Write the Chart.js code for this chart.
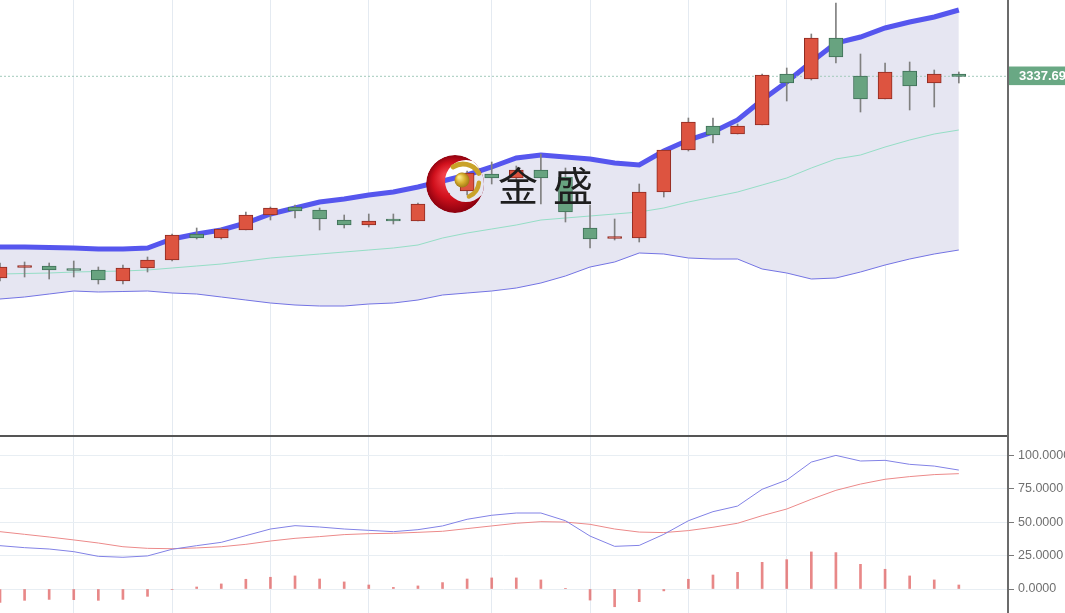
<!doctype html>
<html lang="zh">
  <head>
    <meta charset="UTF-8" />
    <title>金盛 K线</title>
    <script src="https://cdn.jsdelivr.net/npm/chart.js"></script>
    <style>
      html, body { margin: 0; padding: 0; background: #fff; }
      #wrap { width: 1065px; height: 613px; overflow: hidden; }
      canvas { display: block; }
    </style>
  </head>
  <body>
    <div id="wrap">
      <canvas id="price" width="1065" height="437"></canvas>
      <canvas id="osc" width="1065" height="176"></canvas>
    </div>
    <script>
      // candles (red = up, green = down)
      const opens = [3136, 3146.5, 3148, 3144.5, 3144, 3133, 3146, 3154, 3180, 3176, 3184, 3199, 3207, 3204, 3194, 3189, 3193.5, 3193, 3209, 3223, 3240, 3236, 3244, 3237, 3186, 3175.5, 3176, 3222, 3264, 3288, 3280, 3289, 3340, 3335, 3376, 3338, 3315, 3343, 3331, 3340];
      const closes = [3147, 3147.5, 3144, 3143.5, 3134, 3146, 3154, 3179, 3176, 3185, 3199, 3206, 3203, 3195, 3189, 3193, 3193, 3210, 3221, 3241, 3236, 3244, 3236, 3202, 3175, 3176.5, 3222, 3264, 3292, 3279, 3288, 3339, 3331, 3376, 3357, 3315, 3342, 3328, 3340, 3337.69];
      const highs = [3151, 3152, 3151, 3153, 3147, 3149, 3157, 3180, 3186, 3186, 3202, 3207, 3209, 3206, 3199, 3200, 3200, 3211, 3224, 3243, 3252, 3248, 3260, 3246, 3209, 3195, 3230, 3264, 3296, 3296, 3290, 3340, 3346, 3380, 3411, 3360, 3351, 3352, 3344, 3342];
      const lows = [3133, 3137, 3135, 3137, 3130, 3130, 3142, 3153, 3175, 3175, 3184, 3194, 3196, 3184, 3186, 3187, 3190, 3193, 3206, 3219, 3230, 3232, 3210, 3192, 3166, 3174, 3172, 3217, 3263, 3271, 3280, 3289, 3313, 3334, 3351, 3302, 3315, 3304, 3307, 3331];

      // bollinger bands
      const upperBand = [3167, 3167, 3166.5, 3166, 3165, 3165, 3166, 3175, 3180, 3184, 3191, 3200, 3206, 3212, 3215, 3219, 3222, 3227, 3233, 3239, 3247, 3256, 3259, 3257, 3255, 3251, 3249, 3263, 3274, 3282, 3294, 3314, 3332, 3352, 3371, 3377, 3386, 3392, 3397, 3404];
      const midBand = [3140, 3140.5, 3141, 3142, 3142.5, 3143, 3144, 3146, 3148, 3150, 3153, 3156, 3158, 3160, 3162, 3164, 3166, 3169, 3176, 3181, 3185, 3189, 3194, 3196, 3198, 3200, 3202, 3206, 3212, 3217, 3222, 3229, 3236, 3246, 3255, 3259, 3267, 3274, 3280, 3284];
      const lowerBand = [3115, 3117, 3120, 3123, 3122, 3122.5, 3123, 3121, 3120, 3117, 3114, 3111, 3109, 3108, 3108, 3110, 3111, 3114, 3119, 3121, 3123, 3126, 3131, 3138, 3147, 3152, 3161, 3160, 3156, 3155, 3155, 3145, 3141, 3135, 3136, 3142, 3149, 3155, 3160, 3164];

      // oscillator panel
      const fastLine = [32.5, 31, 30, 28, 24.5, 23.8, 24.8, 29.8, 32.5, 35, 40, 45, 47.5, 46.5, 45, 44, 43, 44.5, 47.3, 52.3, 55.3, 57, 57, 51.2, 39.7, 32, 32.7, 41, 51.2, 58, 62.2, 74.8, 81.7, 95.2, 100.2, 96, 96.5, 93.5, 92.2, 89.2];
      const slowLine = [43, 41, 39, 36.8, 34.5, 31.7, 30.5, 30.2, 30.8, 31.7, 33.5, 36, 38, 39.3, 40.8, 41.5, 41.8, 42.5, 43.3, 45.3, 47.3, 49.3, 50.5, 50.2, 48.5, 45, 42.7, 42.3, 43.8, 46.3, 49.3, 55, 60, 67.3, 74, 78.7, 82.3, 84.3, 85.8, 86.5];
      const histogram = [-10, -8.5, -7.8, -8, -8.5, -7.8, -5.5, -0.4, 1.5, 3.8, 7.3, 8.8, 9.8, 7.5, 5.3, 3, 1.2, 2.3, 4.8, 7.5, 8.3, 8.3, 6.8, 0.5, -8.3, -13.3, -9.5, -1.4, 7.3, 10.5, 12.5, 20, 22, 27.8, 27.3, 18.5, 14.8, 9.8, 6.8, 3];

      const weekStarts = [3, 7, 11, 15, 20, 24, 28, 32, 36];
      const oscTicks = [0, 25, 50, 75, 100];
      const xMax = 41;

      const lastClose = closes[closes.length - 1];
      const pts = (arr) => arr.map((v, i) => ({ x: i, y: v }));
      const isUp = (i) => closes[i] >= opens[i];

      Chart.defaults.font.family = '"Liberation Sans", Arial, sans-serif';

      // right axis: fixed width, no extra padding for the labels
      const fitRight = (s) => {
        s.width = 57;
        s.paddingTop = 0;
        s.paddingBottom = 0;
      };

      const xAxis = {
        type: "linear",
        min: 0,
        max: xMax,
        offset: false,
        afterBuildTicks: (s) => {
          s.ticks = weekStarts.map((v) => ({ value: v }));
        },
        ticks: { display: false },
        grid: { color: "#e4eaf1", drawTicks: false, offset: false },
        border: { display: false },
      };

      // 金盛 watermark
      const watermark = {
        id: "watermark",
        afterDatasetsDraw(chart) {
          const ctx = chart.ctx;
          ctx.save();
          ctx.beginPath();
          ctx.arc(455, 184, 29, 0, Math.PI * 2);
          ctx.clip();
          const g = ctx.createRadialGradient(446, 176, 3, 455, 184, 30);
          g.addColorStop(0, "#f2404a");
          g.addColorStop(0.55, "#d0101c");
          g.addColorStop(1, "#86000e");
          ctx.beginPath();
          ctx.arc(455, 184, 29, 0, Math.PI * 2);
          ctx.moveTo(487, 181);
          ctx.arc(466, 181, 21, 0, Math.PI * 2, true);
          ctx.fillStyle = g;
          ctx.fill("evenodd");
          ctx.restore();

          ctx.save();
          ctx.strokeStyle = "#c9a22a";
          ctx.lineCap = "round";
          ctx.lineWidth = 5;
          ctx.beginPath();
          ctx.arc(463, 182, 18, -2.15, -0.5);
          ctx.stroke();
          ctx.lineWidth = 4.5;
          ctx.beginPath();
          ctx.arc(462, 181, 17, 0.1, 1.15);
          ctx.stroke();
          const b = ctx.createRadialGradient(459, 177, 1, 462, 180, 8);
          b.addColorStop(0, "#f8e98a");
          b.addColorStop(0.5, "#d9b030");
          b.addColorStop(1, "#9c7412");
          ctx.beginPath();
          ctx.arc(462, 180, 7.5, 0, Math.PI * 2);
          ctx.fillStyle = b;
          ctx.fill();

          ctx.fillStyle = "#1e1e1e";
          ctx.font = '40px "Noto Sans CJK SC"';
          ctx.textAlign = "center";
          ctx.textBaseline = "middle";
          ctx.fillText("金", 518, 186);
          ctx.fillText("盛", 573, 186);
          ctx.restore();
        },
      };

      new Chart(document.getElementById("price"), {
        type: "bar",
        data: {
          datasets: [
            {
              type: "line",
              data: pts(upperBand),
              borderColor: "#5656ee",
              borderWidth: 5,
              pointRadius: 0,
              fill: "+2",
              backgroundColor: "#e6e6f2",
              order: 6,
            },
            {
              type: "line",
              data: pts(midBand),
              borderColor: "#95dec6",
              borderWidth: 1,
              pointRadius: 0,
              fill: false,
              order: 5,
            },
            {
              type: "line",
              data: pts(lowerBand),
              borderColor: "#7373e3",
              borderWidth: 1,
              pointRadius: 0,
              fill: false,
              order: 5,
            },
            {
              type: "line",
              data: [
                { x: 0, y: lastClose },
                { x: xMax, y: lastClose },
              ],
              borderColor: "#a3cbbc",
              borderWidth: 1,
              borderDash: [2, 2],
              pointRadius: 0,
              fill: false,
              order: 4,
            },
            {
              data: highs.map((h, i) => ({ x: i, y: [lows[i], h] })),
              backgroundColor: "#808080",
              barThickness: 1,
              grouped: false,
              order: 3,
            },
            {
              data: opens.map((o, i) => ({ x: i, y: [o, closes[i]] })),
              backgroundColor: opens.map((o, i) => (isUp(i) ? "#dd5440" : "#68a380")),
              borderColor: opens.map((o, i) => (isUp(i) ? "#8e2b22" : "#3e6f57")),
              borderWidth: 1,
              borderSkipped: false,
              barThickness: 14,
              minBarLength: 2,
              grouped: false,
              order: 1,
            },
          ],
        },
        options: {
          responsive: false,
          animation: false,
          layout: { padding: { bottom: 1 } },
          plugins: { legend: { display: false }, tooltip: { enabled: false } },
          scales: {
            x: { ...xAxis, border: { display: true, color: "#555", width: 2 } },
            y: {
              position: "right",
              min: 2978,
              max: 3414,
              afterFit: fitRight,
              afterBuildTicks: (s) => {
                s.ticks = [{ value: lastClose }];
              },
              grid: { display: false, drawTicks: false },
              border: { color: "#6b6b6b", width: 2 },
              ticks: {
                padding: 11,
                color: "#fff",
                font: { size: 13, weight: "bold" },
                callback: (v) => v.toFixed(2),
                showLabelBackdrop: true,
                backdropColor: "#69a884",
                backdropPadding: { top: 2, bottom: 1, left: 10, right: 20 },
              },
            },
          },
        },
        plugins: [watermark],
      });

      new Chart(document.getElementById("osc"), {
        type: "bar",
        data: {
          datasets: [
            {
              type: "line",
              data: pts(fastLine),
              borderColor: "#8282e6",
              borderWidth: 1,
              pointRadius: 0,
              order: 2,
            },
            {
              type: "line",
              data: pts(slowLine),
              borderColor: "#ec8a8a",
              borderWidth: 1,
              pointRadius: 0,
              order: 2,
            },
            {
              data: pts(histogram),
              backgroundColor: "rgba(224, 96, 96, 0.75)",
              barThickness: 2,
              grouped: false,
              order: 3,
            },
          ],
        },
        options: {
          responsive: false,
          animation: false,
          plugins: { legend: { display: false }, tooltip: { enabled: false } },
          scales: {
            x: xAxis,
            y: {
              position: "right",
              min: -18,
              max: 114,
              afterFit: fitRight,
              afterBuildTicks: (s) => {
                s.ticks = oscTicks.map((v) => ({ value: v }));
              },
              grid: { color: "#e8eef3", tickColor: "#7a7a7a", tickLength: 6 },
              border: { color: "#6b6b6b", width: 2 },
              ticks: {
                padding: 4,
                color: "#707070",
                font: { size: 12.5 },
                callback: (v) => v.toFixed(4),
              },
            },
          },
        },
      });
    </script>
  </body>
</html>
